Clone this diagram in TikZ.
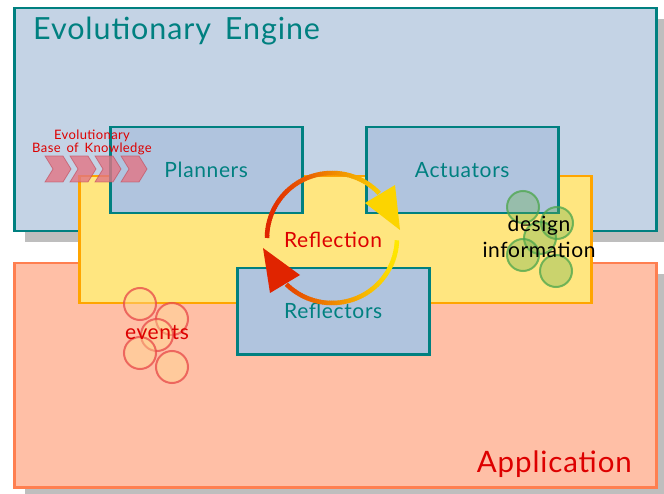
\documentclass[tikz,border=0pt]{standalone}
\usepackage{fontspec}
\setmainfont{Lato}[LetterSpace=3]
\usetikzlibrary{shadows}

\definecolor{engfill}{HTML}{C4D3E5}
\definecolor{boxfill}{HTML}{B0C4DE}
\definecolor{tealline}{HTML}{008080}
\definecolor{appfill}{HTML}{FFBFA6}
\definecolor{appline}{HTML}{FF7F50}
\definecolor{reflfill}{HTML}{FFE680}
\definecolor{reflline}{HTML}{FFA500}
\definecolor{shadowgray}{HTML}{BEBEBE}
\definecolor{labelred}{HTML}{DD0000}
\definecolor{arcred}{RGB}{224,36,0}
\definecolor{arcyellow}{RGB}{255,232,0}
\definecolor{chevfill}{HTML}{E27484}
\definecolor{chevline}{HTML}{C04858}
\definecolor{evline}{HTML}{E84848}
\definecolor{evfill}{HTML}{FFD890}
\definecolor{dsline}{HTML}{4CA64C}
\definecolor{dsfill}{HTML}{6AB04C}

\begin{document}
\begin{tikzpicture}[x=1pt,y=-1pt,
  panel/.style={anchor=north west, inner sep=0pt, line width=2.5pt,
    drop shadow={shadow xshift=11pt, shadow yshift=-11pt, fill=shadowgray, opacity=1}},
  subbox/.style={anchor=north west, inner sep=0pt, line width=2.5pt,
    draw=tealline, fill=boxfill, minimum width=192pt, minimum height=86pt,
    text=tealline, font=\fontsize{21}{25}\selectfont},
  chevron/.style={fill=chevfill, fill opacity=0.8, draw=chevline, draw opacity=0.6, line width=0.8pt},
  evcircle/.style={circle, minimum size=32pt, inner sep=0pt, draw=evline, draw opacity=0.75,
    line width=2pt, fill=evfill, fill opacity=0.45},
  dscircle/.style={circle, minimum size=32pt, inner sep=0pt, draw=dsline, draw opacity=0.75,
    line width=2pt, fill=dsfill, fill opacity=0.35},
  arcseg/.style={line width=4.5pt}]

\useasboundingbox (0,0) rectangle (664,494);

% outer frames
\node[panel, draw=tealline, fill=engfill, minimum width=642pt, minimum height=223pt]
  (engine) at (13,7) {};
\node[panel, draw=appline, fill=appfill, minimum width=642pt, minimum height=224pt]
  (app) at (13,262) {};

% reflection layer
\node[anchor=north west, inner sep=0pt, line width=2.5pt, draw=reflline, fill=reflfill,
  minimum width=512pt, minimum height=127pt] (refl) at (78,175) {};

% components
\node[subbox] (planners) at (109,126) {Planners};
\node[subbox] (actuators) at (365,126) {Actuators};
\node[subbox] (reflectors) at (236,267) {Reflectors};

% titles
\node[anchor=base west, inner sep=0pt, text=tealline, font=\fontsize{30.5}{36}\selectfont]
  (enginetitle) at (33,40) {Evolutionary\, Engine};
\node[anchor=base east, inner sep=0pt, text=labelred, font=\fontsize{29.5}{35}\selectfont]
  (apptitle) at (632,472) {Application};

% evolutionary base of knowledge
\foreach \i/\x in {1/45,2/70,3/95,4/121}{
  \path[chevron] (\x,156) -- (\x+18,156) -- (\x+26,169) -- (\x+18,182) -- (\x,182) -- (\x+8,169) -- cycle;
}
\node[align=center, inner sep=0pt, text=labelred, font=\fontsize{13}{11.5}\selectfont]
  (kblabel) at (92,142) {Evolutionary\\Base\, of\, Knowledge};

% reflection cycle
\coordinate (c) at (332,238);
\foreach \a in {-180,-178,...,-46}{
  \pgfmathsetmacro\t{50+50*cos(\a+1)}
  \draw[arcseg, color=arcyellow!\t!arcred] ([shift={(\a:65)}]c) arc[start angle=\a, end angle=\a+2.6, radius=65];
}
\foreach \a in {2,4,...,132}{
  \pgfmathsetmacro\t{50+50*cos(\a+1)}
  \draw[arcseg, color=arcyellow!\t!arcred] ([shift={(\a:65)}]c) arc[start angle=\a, end angle=\a+2.6, radius=65];
}
\fill[color=arcyellow!90!arcred, shift={(c)}] (33,-35) -- (63,-53) -- (68,-8) -- cycle;
\fill[color=arcred, shift={(c)}] (-69,10) -- (-32,37) -- (-62,55) -- cycle;
\node[text=labelred, font=\fontsize{21}{25}\selectfont] (refltext) at (333,240) {Reflection};

% events
\node[evcircle] (ev1) at (140,304) {};
\node[evcircle] (ev2) at (172,319) {};
\node[evcircle] (ev3) at (157,335) {};
\node[evcircle] (ev4) at (140,353) {};
\node[evcircle] (ev5) at (172,367) {};
\node[text=labelred, font=\fontsize{21}{25}\selectfont] (evtext) at (157,333) {events};

% design information
\node[dscircle] (ds1) at (523,207) {};
\node[dscircle] (ds2) at (557,223) {};
\node[dscircle] (ds3) at (540,238) {};
\node[dscircle] (ds4) at (523,255) {};
\node[dscircle] (ds5) at (556,271) {};
\node[align=center, text=black, font=\fontsize{21}{26}\selectfont] (dstext) at (539,237) {design\\information};

\end{tikzpicture}
\end{document}
